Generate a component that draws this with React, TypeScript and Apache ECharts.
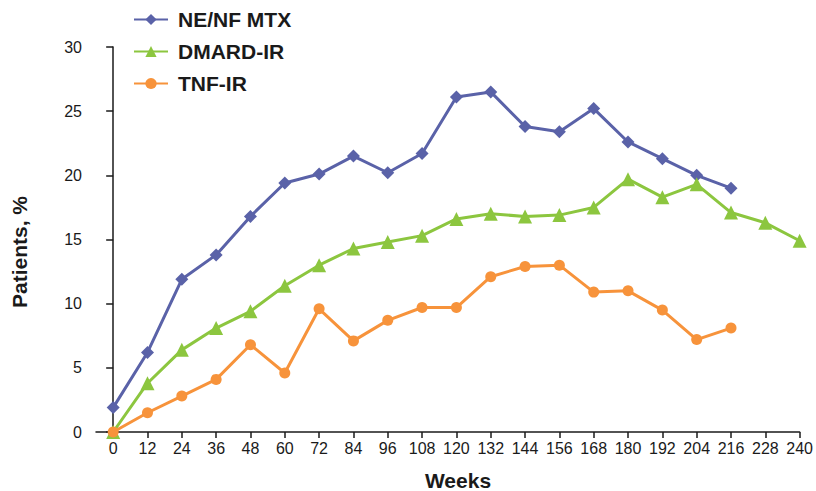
import React, { useEffect, useRef } from "react";
import * as echarts from "echarts";

const weeks = [0, 12, 24, 36, 48, 60, 72, 84, 96, 108, 120, 132, 144, 156, 168, 180, 192, 204, 216, 228, 240];
const neNfMtx = [1.9, 6.2, 11.9, 13.8, 16.8, 19.4, 20.1, 21.5, 20.2, 21.7, 26.1, 26.5, 23.8, 23.4, 25.2, 22.6, 21.3, 20.0, 19.0];
const dmardIr = [0, 3.8, 6.4, 8.1, 9.4, 11.4, 13.0, 14.3, 14.8, 15.3, 16.6, 17.0, 16.8, 16.9, 17.5, 19.7, 18.3, 19.3, 17.1, 16.3, 14.9];
const tnfIr = [0, 1.5, 2.8, 4.1, 6.8, 4.6, 9.6, 7.1, 8.7, 9.7, 9.7, 12.1, 12.9, 13.0, 10.9, 11.0, 9.5, 7.2, 8.1];
const yTicks = [0, 5, 10, 15, 20, 25, 30];

const pair = (vals: number[]) => vals.map((v, i) => [weeks[i], v]);

const FONT = "Liberation Sans, Arial, sans-serif";
const INK = "#1a1a1a";

export default function App() {
  const ref = useRef<HTMLDivElement>(null);
  useEffect(() => {
    const chart = echarts.init(ref.current!, null, { renderer: "svg" });
    chart.setOption({
      animation: false,
      backgroundColor: "#ffffff",
      textStyle: { fontFamily: FONT },
      legend: {
        orient: "vertical",
        left: 128,
        top: 4,
        itemWidth: 34,
        itemHeight: 14,
        itemGap: 11,
        textStyle: {
          fontFamily: FONT,
          fontSize: 21,
          fontWeight: "bold",
          color: INK,
          padding: [0, 0, 0, 5],
        },
        data: ["NE/NF MTX", "DMARD-IR", "TNF-IR"],
      },
      grid: { left: 96, right: 15, top: 47, bottom: 59, containLabel: false },
      xAxis: {
        type: "value",
        min: -6,
        max: 240,
        splitLine: { show: false },
        axisLine: { lineStyle: { color: INK, width: 1.5 } },
        axisTick: { show: true, length: 6, customValues: weeks, lineStyle: { color: INK, width: 1.5 } },
        axisLabel: { customValues: weeks, fontSize: 16, color: INK, fontFamily: FONT, margin: 8 },
      },
      yAxis: {
        type: "value",
        min: 0,
        max: 30,
        interval: 5,
        splitLine: { show: false },
        axisLine: { show: true, lineStyle: { color: INK, width: 1.5 } },
        axisTick: { show: true, length: 7, customValues: yTicks, lineStyle: { color: INK, width: 1.5 } },
        axisLabel: { customValues: yTicks, fontSize: 16, color: INK, fontFamily: FONT, margin: 14 },
      },
      graphic: [
        {
          type: "text",
          x: 19,
          y: 252,
          rotation: Math.PI / 2,
          style: {
            text: "Patients, %",
            fontFamily: FONT,
            fontSize: 21,
            fontWeight: "bold",
            fill: INK,
            align: "center",
            verticalAlign: "middle",
          },
        },
        {
          type: "text",
          x: 458,
          y: 480,
          style: {
            text: "Weeks",
            fontFamily: FONT,
            fontSize: 21,
            fontWeight: "bold",
            fill: INK,
            align: "center",
            verticalAlign: "middle",
          },
        },
      ],
      series: [
        {
          name: "NE/NF MTX",
          type: "line",
          data: pair(neNfMtx),
          symbol: "diamond",
          symbolSize: 13,
          lineStyle: { width: 3, color: "#5a62a8" },
          itemStyle: { color: "#5a62a8" },
          z: 3,
        },
        {
          name: "DMARD-IR",
          type: "line",
          data: pair(dmardIr),
          symbol: "triangle",
          symbolSize: 14,
          lineStyle: { width: 3, color: "#8cc63f" },
          itemStyle: { color: "#8cc63f" },
          z: 4,
        },
        {
          name: "TNF-IR",
          type: "line",
          data: pair(tnfIr),
          symbol: "circle",
          symbolSize: 11,
          lineStyle: { width: 3, color: "#f7933b" },
          itemStyle: { color: "#f7933b" },
          z: 5,
        },
      ],
    });
    return () => chart.dispose();
  }, []);
  return (
    <div
      ref={ref}
      style={{ position: "fixed", left: 0, top: 0, width: 816, height: 491, background: "#fff" }}
    />
  );
}
